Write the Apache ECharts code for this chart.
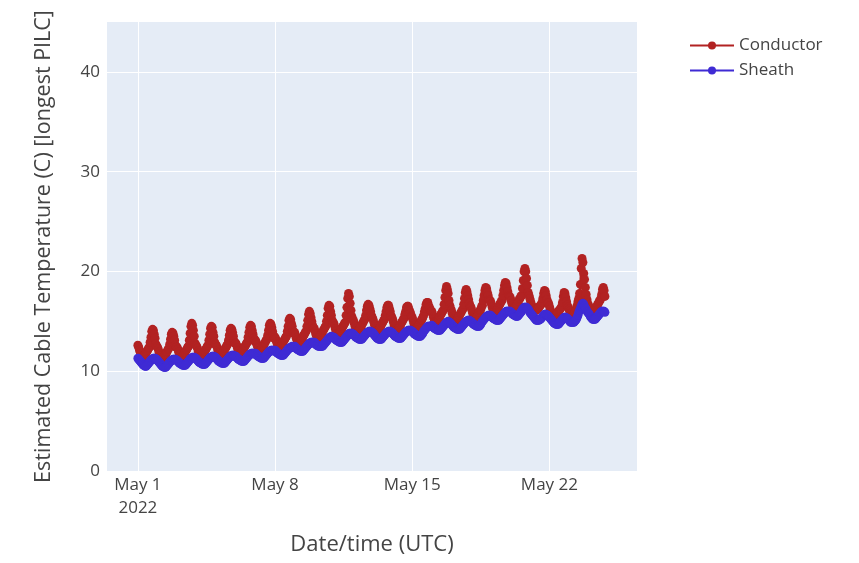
<!DOCTYPE html>
<html>
<head>
<meta charset="utf-8">
<script src="https://cdn.jsdelivr.net/npm/echarts@6/dist/echarts.min.js"></script>
<style>
  html, body { margin: 0; padding: 0; background: #fff; }
  #chart { width: 859px; height: 563px; }
</style>
</head>
<body>
<div id="chart"></div>
<script>
// hourly samples from 2022-05-01 00:00 UTC, one row per day (last day ends at 20:00)
const startTime = Date.UTC(2022, 4, 1);
const stepHours = 1;

const conductor = [
  12.6,12.4,12.1,11.9,11.7,11.5,11.4,11.4,11.6,11.7,11.8,12.0,12.1,12.3,12.4,12.9,13.4,14.0,14.2,14.1,13.7,13.3,12.7,12.5,
  12.4,12.2,11.9,11.7,11.5,11.3,11.2,11.3,11.4,11.6,11.7,11.9,12.0,12.2,12.3,12.7,13.2,13.7,13.9,13.8,13.5,13.1,12.6,12.4,
  12.4,12.2,11.9,11.7,11.6,11.4,11.4,11.4,11.6,11.8,11.9,12.1,12.2,12.4,12.5,13.1,13.8,14.5,14.8,14.6,14.1,13.5,12.8,12.6,
  12.5,12.3,12.0,11.8,11.7,11.5,11.5,11.5,11.7,11.9,12.0,12.2,12.3,12.5,12.6,13.1,13.7,14.3,14.5,14.4,13.9,13.5,12.9,12.7,
  12.6,12.4,12.1,11.9,11.8,11.6,11.6,11.6,11.8,12.0,12.1,12.3,12.4,12.6,12.7,13.1,13.6,14.1,14.3,14.2,13.9,13.5,13.0,12.8,
  12.8,12.6,12.3,12.1,12.0,11.8,11.8,11.8,12.0,12.2,12.3,12.5,12.6,12.8,12.9,13.4,13.9,14.4,14.6,14.5,14.1,13.7,13.3,13.0,
  13.1,12.9,12.6,12.4,12.3,12.1,12.1,12.1,12.3,12.5,12.6,12.8,12.9,13.1,13.2,13.6,14.1,14.6,14.8,14.7,14.4,14.0,13.6,13.3,
  13.4,13.2,12.9,12.7,12.6,12.4,12.4,12.4,12.6,12.8,12.9,13.1,13.2,13.4,13.5,14.0,14.5,15.1,15.3,15.2,14.8,14.5,14.0,13.8,
  13.9,13.6,13.3,13.1,13.0,12.9,12.9,12.9,13.0,13.2,13.4,13.6,13.7,13.9,14.0,14.5,15.1,15.7,16.0,15.8,15.4,15.0,14.6,14.3,
  14.3,14.0,13.7,13.5,13.4,13.3,13.3,13.4,13.5,13.7,13.9,14.1,14.2,14.4,14.5,15.0,15.6,16.3,16.6,16.5,16.0,15.6,15.1,14.9,
  14.8,14.5,14.2,14.0,13.9,13.8,13.8,13.8,13.9,14.1,14.3,14.5,14.6,14.8,14.9,15.6,16.4,17.3,17.8,17.5,16.8,16.1,15.5,15.2,
  15.1,14.8,14.5,14.3,14.2,14.1,14.1,14.1,14.2,14.4,14.6,14.8,14.9,15.1,15.2,15.6,16.1,16.5,16.7,16.6,16.3,16.0,15.6,15.4,
  15.2,14.9,14.6,14.4,14.2,14.1,14.1,14.1,14.2,14.4,14.6,14.8,14.9,15.1,15.2,15.6,16.0,16.4,16.6,16.6,16.3,16.0,15.6,15.4,
  15.2,14.9,14.6,14.4,14.3,14.2,14.2,14.2,14.3,14.5,14.7,14.9,15.0,15.2,15.3,15.7,16.0,16.4,16.5,16.5,16.2,16.0,15.8,15.5,
  15.4,15.1,14.8,14.6,14.5,14.4,14.4,14.4,14.5,14.7,14.9,15.1,15.2,15.4,15.6,16.0,16.3,16.7,16.9,16.9,16.6,16.4,16.2,16.0,
  16.0,15.7,15.4,15.2,15.1,15.0,15.0,15.0,15.1,15.3,15.5,15.7,15.8,16.0,16.1,16.7,17.4,18.1,18.5,18.2,17.8,17.1,16.6,16.3,
  16.1,15.8,15.5,15.3,15.2,15.1,15.1,15.1,15.2,15.4,15.6,15.8,15.9,16.1,16.2,16.7,17.3,17.9,18.2,18.0,17.6,17.2,16.8,16.5,
  16.4,16.1,15.8,15.6,15.5,15.4,15.4,15.4,15.5,15.7,15.9,16.1,16.2,16.5,16.6,17.1,17.6,18.1,18.4,18.3,17.9,17.6,17.2,17.1,
  17.0,16.7,16.4,16.2,16.1,16.0,16.0,16.0,16.1,16.3,16.5,16.7,16.8,17.0,17.1,17.6,18.1,18.6,18.9,18.8,18.4,18.0,17.6,17.5,
  17.4,17.1,16.8,16.6,16.5,16.4,16.4,16.4,16.5,16.7,17.0,17.2,17.3,17.5,17.6,18.3,19.1,20.0,20.3,20.0,19.3,18.6,17.9,17.6,
  17.3,17.0,16.7,16.5,16.3,16.2,16.1,16.1,16.1,16.2,16.3,16.4,16.5,16.6,16.7,16.9,17.3,17.8,18.1,18.0,17.6,17.2,16.9,16.8,
  16.5,16.2,15.9,15.7,15.6,15.5,15.5,15.5,15.6,15.7,15.9,16.0,16.1,16.2,16.3,16.5,16.9,17.5,17.9,17.8,17.4,17.0,16.6,16.4,
  16.2,16.0,15.8,15.7,15.6,15.6,15.6,15.8,16.0,16.3,16.6,17.0,17.3,17.8,18.7,20.3,21.3,20.9,19.8,19.2,18.4,17.7,17.2,16.8,
  16.6,16.4,16.2,16.0,15.9,15.8,15.8,15.9,16.0,16.3,16.5,16.7,16.8,17.0,17.1,17.3,17.7,18.2,18.4,18.1,17.5
];

const sheath = [
  11.3,11.2,11.1,11.0,10.9,10.8,10.7,10.6,10.6,10.5,10.5,10.6,10.7,10.8,10.9,11.0,11.1,11.2,11.2,11.3,11.3,11.3,11.2,11.2,
  11.1,11.0,10.9,10.8,10.7,10.6,10.5,10.5,10.4,10.4,10.4,10.5,10.6,10.7,10.8,10.9,11.0,11.1,11.1,11.2,11.2,11.2,11.2,11.1,
  11.1,11.0,10.9,10.8,10.8,10.7,10.7,10.6,10.6,10.6,10.6,10.7,10.8,10.9,11.0,11.1,11.2,11.3,11.3,11.4,11.4,11.4,11.3,11.3,
  11.2,11.1,11.0,10.9,10.9,10.8,10.8,10.7,10.7,10.7,10.7,10.8,10.9,11.0,11.1,11.2,11.3,11.4,11.4,11.5,11.5,11.5,11.4,11.4,
  11.3,11.2,11.1,11.0,11.0,10.9,10.9,10.8,10.8,10.8,10.8,10.9,11.0,11.1,11.2,11.3,11.4,11.5,11.5,11.6,11.6,11.6,11.5,11.5,
  11.5,11.4,11.3,11.2,11.2,11.1,11.1,11.0,11.0,11.0,11.0,11.1,11.2,11.3,11.4,11.5,11.6,11.7,11.7,11.8,11.8,11.8,11.8,11.7,
  11.8,11.7,11.6,11.5,11.5,11.4,11.4,11.3,11.3,11.3,11.3,11.4,11.5,11.6,11.7,11.8,11.9,12.0,12.0,12.1,12.1,12.1,12.1,12.0,
  12.1,12.0,11.9,11.8,11.8,11.7,11.7,11.6,11.6,11.6,11.6,11.7,11.8,11.9,12.0,12.1,12.2,12.3,12.3,12.4,12.4,12.5,12.4,12.4,
  12.5,12.4,12.3,12.2,12.2,12.1,12.1,12.0,12.0,12.0,12.0,12.1,12.2,12.3,12.4,12.5,12.6,12.7,12.8,12.8,12.9,12.9,12.9,12.8,
  12.9,12.8,12.7,12.6,12.6,12.5,12.5,12.5,12.5,12.5,12.5,12.6,12.7,12.8,12.9,13.0,13.1,13.2,13.3,13.4,13.4,13.5,13.4,13.4,
  13.4,13.3,13.2,13.1,13.1,13.0,13.0,12.9,12.9,12.9,12.9,13.0,13.1,13.2,13.3,13.4,13.5,13.6,13.7,13.8,13.8,13.8,13.8,13.7,
  13.7,13.6,13.5,13.4,13.4,13.3,13.3,13.2,13.2,13.2,13.2,13.3,13.4,13.5,13.6,13.7,13.8,13.9,13.9,14.0,14.0,14.0,13.9,13.9,
  13.8,13.7,13.6,13.5,13.4,13.3,13.3,13.2,13.2,13.2,13.2,13.3,13.4,13.5,13.6,13.7,13.8,13.9,13.9,14.0,14.0,14.0,13.9,13.9,
  13.8,13.7,13.6,13.5,13.5,13.4,13.4,13.3,13.3,13.3,13.3,13.4,13.5,13.6,13.7,13.8,13.9,14.0,14.0,14.1,14.1,14.1,14.1,14.0,
  14.0,13.9,13.8,13.7,13.7,13.6,13.6,13.5,13.5,13.5,13.5,13.6,13.7,13.8,14.0,14.1,14.2,14.3,14.4,14.5,14.5,14.5,14.5,14.5,
  14.6,14.5,14.4,14.3,14.3,14.2,14.2,14.1,14.1,14.1,14.1,14.2,14.3,14.4,14.5,14.6,14.7,14.8,14.9,14.9,15.0,14.9,14.9,14.8,
  14.7,14.6,14.5,14.4,14.4,14.3,14.3,14.2,14.2,14.2,14.2,14.3,14.4,14.5,14.6,14.7,14.8,14.9,15.0,15.0,15.1,15.1,15.1,15.0,
  15.0,14.9,14.8,14.7,14.7,14.6,14.6,14.5,14.5,14.5,14.5,14.6,14.7,14.9,15.0,15.1,15.2,15.3,15.4,15.5,15.5,15.6,15.6,15.6,
  15.6,15.5,15.4,15.3,15.3,15.2,15.2,15.1,15.1,15.1,15.1,15.2,15.3,15.4,15.5,15.6,15.7,15.8,15.9,16.0,16.0,16.0,16.0,16.0,
  16.0,15.9,15.8,15.7,15.7,15.6,15.6,15.5,15.5,15.5,15.6,15.7,15.8,15.9,16.0,16.2,16.3,16.4,16.4,16.4,16.4,16.3,16.2,16.1,
  15.9,15.8,15.7,15.6,15.5,15.4,15.3,15.2,15.1,15.1,15.1,15.1,15.2,15.2,15.3,15.4,15.5,15.6,15.7,15.7,15.7,15.6,15.6,15.5,
  15.4,15.3,15.2,15.1,15.0,14.9,14.8,14.8,14.7,14.7,14.7,14.7,14.8,14.9,15.0,15.1,15.2,15.3,15.4,15.4,15.4,15.3,15.3,15.2,
  15.1,15.0,14.9,14.9,14.9,14.9,14.9,15.0,15.1,15.2,15.4,15.6,15.9,16.1,16.3,16.5,16.7,16.8,16.7,16.5,16.3,16.2,16.0,15.9,
  15.8,15.7,15.5,15.4,15.3,15.2,15.2,15.2,15.2,15.3,15.4,15.5,15.6,15.7,15.8,15.9,16.0,16.0,16.0,16.0,15.9
];

const xTicks = [Date.UTC(2022, 4, 1), Date.UTC(2022, 4, 8), Date.UTC(2022, 4, 15), Date.UTC(2022, 4, 22)];
const yTicks = [0, 10, 20, 30, 40];

const DAY = 86400000;
const xMin = startTime - 1.576 * DAY;
const xMax = startTime + 25.47 * DAY;
const MONTHS = ['Jan', 'Feb', 'Mar', 'Apr', 'May', 'Jun', 'Jul', 'Aug', 'Sep', 'Oct', 'Nov', 'Dec'];
const FONT = 'Open Sans';
const TXT = '#444';

const toPairs = (vals) => vals.map((v, i) => [startTime + i * stepHours * 3600000, v]);

const chart = echarts.init(document.getElementById('chart'));
chart.setOption({
  animation: false,
  backgroundColor: '#fff',
  textStyle: { fontFamily: FONT },
  legend: {
    orient: 'vertical',
    left: 684,
    top: 32,
    itemWidth: 44,
    itemHeight: 10,
    itemGap: 8,
    textStyle: { fontSize: 17, color: TXT, fontFamily: FONT },
    data: ['Conductor', 'Sheath']
  },
  grid: {
    left: 107, right: 222, top: 22, bottom: 92,
    show: true, backgroundColor: '#E5ECF6', borderWidth: 0
  },
  xAxis: {
    type: 'value',
    min: xMin,
    max: xMax,
    name: 'Date/time (UTC)',
    nameLocation: 'middle',
    nameGap: 63,
    nameTextStyle: { fontSize: 22, color: TXT, fontFamily: FONT },
    axisLine: { show: false },
    axisTick: { show: false, customValues: xTicks },
    splitLine: { show: true, lineStyle: { color: '#fff', width: 1 } },
    axisLabel: {
      customValues: xTicks,
      fontSize: 17,
      color: TXT,
      lineHeight: 23,
      margin: 3,
      formatter: (val) => {
        const d = new Date(val);
        const s = MONTHS[d.getUTCMonth()] + ' ' + d.getUTCDate();
        return val === xTicks[0] ? s + '\n' + d.getUTCFullYear() : s;
      }
    }
  },
  yAxis: {
    type: 'value',
    min: 0,
    max: 45,
    name: 'Estimated Cable Temperature (C) [longest PILC]',
    nameLocation: 'middle',
    nameGap: 52,
    nameTextStyle: { fontSize: 21.5, color: TXT, fontFamily: FONT },
    axisLine: { show: false },
    axisTick: { show: false, customValues: yTicks },
    splitLine: { show: true, lineStyle: { color: '#fff', width: 1 } },
    axisLabel: { customValues: yTicks, fontSize: 17, color: TXT, margin: 7 }
  },
  series: [
    {
      name: 'Conductor',
      type: 'line',
      data: toPairs(conductor),
      symbol: 'circle',
      symbolSize: 9,
      showAllSymbol: true,
      color: '#b22222',
      lineStyle: { width: 2.5, color: '#b22222' },
      itemStyle: { color: '#b22222' }
    },
    {
      name: 'Sheath',
      type: 'line',
      data: toPairs(sheath),
      symbol: 'circle',
      symbolSize: 9,
      showAllSymbol: true,
      color: '#3f2bd4',
      lineStyle: { width: 2.5, color: '#3f2bd4' },
      itemStyle: { color: '#3f2bd4' }
    }
  ]
});
</script>
</body>
</html>
